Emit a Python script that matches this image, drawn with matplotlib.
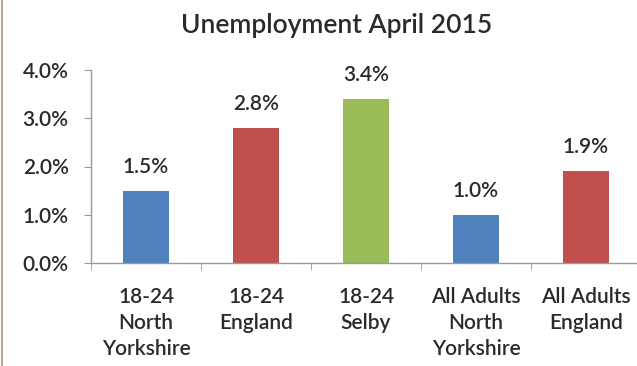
import matplotlib
matplotlib.use("Agg")
import matplotlib.pyplot as plt
from matplotlib.ticker import FuncFormatter
from matplotlib.patches import Rectangle

categories = ["18-24\nNorth\nYorkshire", "18-24\nEngland", "18-24\nSelby",
              "All Adults\nNorth\nYorkshire", "All Adults\nEngland"]
values = [1.5, 2.8, 3.4, 1.0, 1.9]
labels = ["1.5%", "2.8%", "3.4%", "1.0%", "1.9%"]
colors = ["#4F81BD", "#C0504D", "#9BBB59", "#4F81BD", "#C0504D"]
yticks = [0, 1, 2, 3, 4]

plt.rcParams['font.family'] = ['Lato', 'DejaVu Sans']
plt.rcParams['font.weight'] = 'semibold'
text_color = "#2a2a2a"
axis_color = "#9a9a9a"
fs = 15

W, H = 637, 366
fig = plt.figure(figsize=(W / 100, H / 100), dpi=100)
fig.patch.set_facecolor("white")

x0, x1 = 91, 641
ytop, ybot = 70, 263
ax = fig.add_axes([x0 / W, 1 - ybot / H, (x1 - x0) / W, (ybot - ytop) / H])
ax.set_facecolor("none")

xs = list(range(len(categories)))
ax.bar(xs, values, width=0.41, color=colors, zorder=2)
for x, v, t in zip(xs, values, labels):
    ax.annotate(t, (x, v), xytext=(0, 10), textcoords="offset points",
                ha="center", va="bottom", fontsize=fs, color=text_color)

ax.set_xlim(-0.5, len(categories) - 0.5)
ax.set_ylim(0, 4)
ax.set_yticks(yticks)
ax.yaxis.set_major_formatter(FuncFormatter(lambda v, p: f"{v:.1f}%"))
ax.set_xticks(xs)
ax.set_xticklabels(categories, fontsize=fs, color=text_color, linespacing=1.38)
ax.set_xticks([i - 0.5 for i in range(len(categories) + 1)], minor=True)
ax.tick_params(axis="x", which="major", length=0, pad=17)
ax.tick_params(axis="x", which="minor", length=5, color=axis_color, direction="out")
ax.tick_params(axis="y", length=5, color=axis_color, labelsize=fs,
               labelcolor=text_color, pad=11)
for s in ["top", "right"]:
    ax.spines[s].set_visible(False)
for s in ["left", "bottom"]:
    ax.spines[s].set_color(axis_color)
    ax.spines[s].set_linewidth(1.0)

fig.text(337 / W, 1 - 26 / H, "Unemployment April 2015", ha="center", va="center",
         fontsize=19, color=text_color)

fig.add_artist(Rectangle((1.5 / W, 0), 1.5 / W, 1, transform=fig.transFigure,
                         color="#b8ac8c", lw=0))

fig.savefig("out.png", dpi=100)
